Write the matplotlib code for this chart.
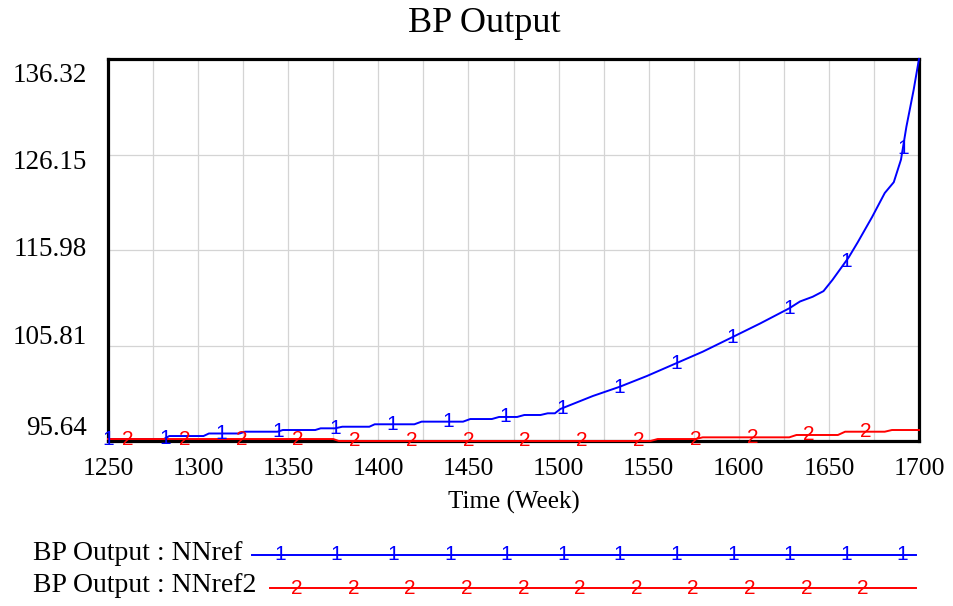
import numpy as np
import matplotlib
matplotlib.use("Agg")
import matplotlib.pyplot as plt
from matplotlib.transforms import blended_transform_factory

# BP Output, run "NNref"
weeks_nnref = [1250, 1281, 1284, 1303, 1306, 1323, 1326, 1344, 1347, 1365, 1368, 1376,
               1380, 1395, 1398, 1420, 1424, 1447, 1451, 1463, 1467, 1477, 1481, 1490,
               1494, 1498, 1501, 1519, 1534, 1549, 1566, 1580, 1597, 1612, 1628, 1634,
               1641, 1647, 1652, 1661, 1666, 1674, 1681, 1686, 1690, 1693, 1697, 1700]
bp_nnref = [95.85, 95.85, 96.17, 96.17, 96.44, 96.44, 96.63, 96.63, 96.81, 96.81, 96.99, 96.99,
            97.16, 97.16, 97.42, 97.42, 97.70, 97.70, 97.98, 97.98, 98.20, 98.20, 98.41, 98.41,
            98.59, 98.59, 99.05, 100.43, 101.42, 102.56, 103.98, 105.15, 106.75, 108.17, 109.77, 110.50,
            111.00, 111.60, 112.80, 115.20, 116.80, 119.50, 122.05, 123.20, 125.60, 129.10, 133.00, 136.32]

# BP Output, run "NNref2"
weeks_nnref2 = [1250, 1375, 1378, 1551, 1555, 1576, 1580, 1628, 1632, 1655, 1659, 1681, 1685, 1700]
bp_nnref2 = [95.85, 95.85, 95.64, 95.64, 95.85, 95.85, 96.03, 96.03, 96.28, 96.28, 96.63, 96.63, 96.81, 96.81]

y_ticks = [95.64, 105.81, 115.98, 126.15, 136.32]
x_ticks = list(range(1250, 1701, 50))
x_grid = list(range(1250, 1701, 25))
series_labels = ["BP Output : NNref", "BP Output : NNref2"]
series_ids = ["1", "2"]
series_colors = ["#0000ff", "#ff0000"]

SERIF = "Liberation Serif"
SANS = "Liberation Sans"

W, H = 954, 606
fig = plt.figure(figsize=(W / 100, H / 100), dpi=100)
fig.patch.set_facecolor("white")

ax = fig.add_axes([108 / W, (H - 441) / H, 811 / W, 382 / H])
ax.set_xlim(x_ticks[0], x_ticks[-1])
ax.set_ylim(y_ticks[0], y_ticks[-1])

# grid
for xv in x_grid[1:-1]:
    ax.axvline(xv, color="#d4d4d4", lw=0.9, zorder=0)
for yv in y_ticks[1:-1]:
    ax.axhline(yv, color="#d4d4d4", lw=0.9, zorder=0)

for sp in ax.spines.values():
    sp.set_linewidth(2.3)
    sp.set_color("black")

# series lines
runs = [(weeks_nnref, bp_nnref), (weeks_nnref2, bp_nnref2)]
for (wk, val), col in zip(runs, series_colors):
    ax.plot(wk, val, color=col, lw=1.4, zorder=3, clip_on=False)

# run number glyphs along each line
marker_starts = [1250.0, 1261.0]
marker_step = 31.5
for (wk, val), col, sid, start in zip(runs, series_colors, series_ids, marker_starts):
    mw = np.arange(start, x_ticks[-1] - 5, marker_step)
    mv = np.interp(mw, wk, val)
    for xw, yv in zip(mw, mv):
        ax.text(xw, yv, sid, color=col, fontsize=15, family=SANS,
                ha="center", va="center", zorder=4, clip_on=False)

# ticks
ax.set_xticks(x_ticks)
ax.set_xticklabels([str(t) for t in x_ticks], fontsize=18.5, family=SERIF)
ax.tick_params(axis="x", length=0, pad=12)
ax.set_yticks(y_ticks)
ax.set_yticklabels([])
ax.tick_params(axis="y", length=0)

# y labels spread evenly along the axis
ylab_tr = blended_transform_factory(ax.transAxes, ax.transAxes)
ylab_pos = [0.034, 0.272, 0.5, 0.728, 0.958]
for yv, yp in zip(y_ticks, ylab_pos):
    ax.text(-0.026, yp, f"{yv:.2f}", transform=ylab_tr, ha="right", va="center",
            fontsize=19.5, family=SERIF)

ax.set_xlabel("Time (Week)", fontsize=18, family=SERIF, labelpad=8)
fig.text(484 / W, 1 - 24 / H, "BP Output", ha="center", va="center",
         fontsize=26, family=SERIF)

# legend rows below the chart
lg = fig.add_axes([0, 0, 1, 1])
lg.set_xlim(0, W)
lg.set_ylim(H, 0)
lg.axis("off")
lg.patch.set_alpha(0)
rows = [(555, 252, 280, 12), (588, 270, 297, 11)]
for (ly, x0, m0, n), col, sid, lab in zip(rows, series_colors, series_ids, series_labels):
    lg.text(33, ly - 2, lab, ha="left", va="center", fontsize=20, family=SERIF)
    lg.plot([x0, 916], [ly, ly], color=col, lw=1.4)
    for k in range(n):
        lg.text(m0 + 56.6 * k, ly, sid, color=col, fontsize=15, family=SANS,
                ha="center", va="center")

fig.savefig("out.png", dpi=100)
